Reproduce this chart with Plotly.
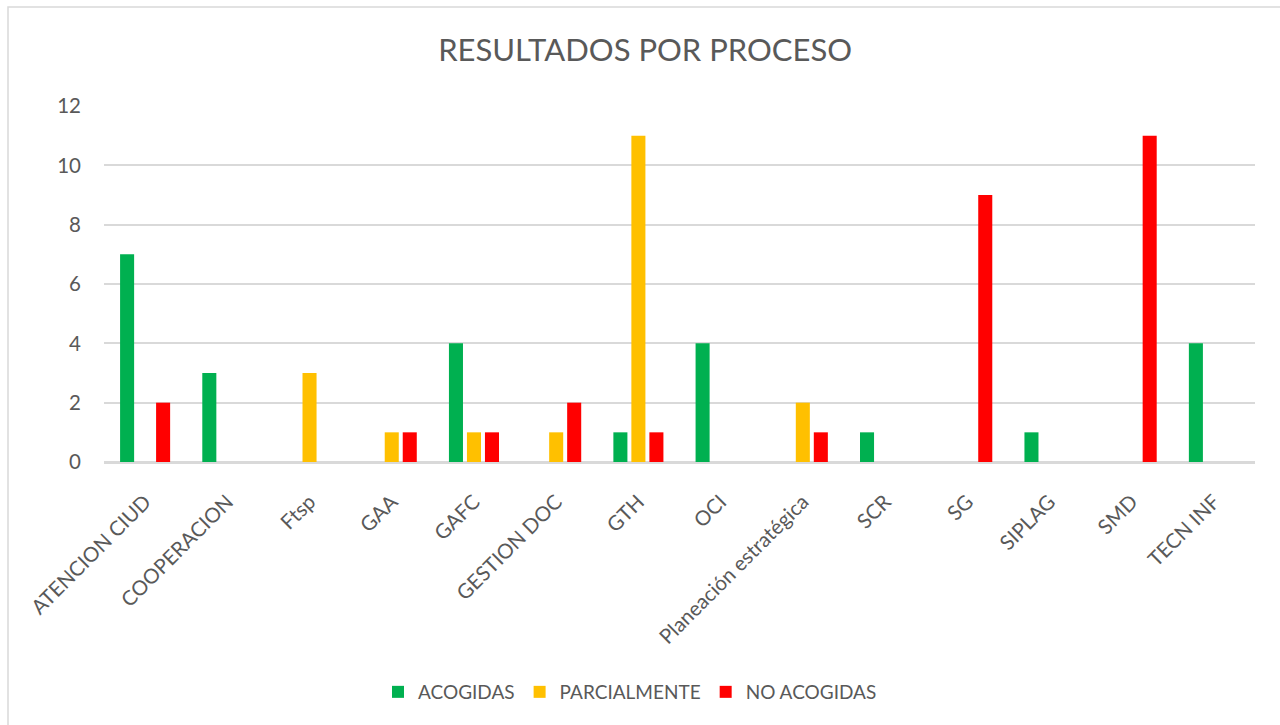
import plotly.graph_objects as go

categories = ["ATENCION CIUD", "COOPERACION", "Ftsp", "GAA", "GAFC", "GESTION DOC", "GTH",
              "OCI", "Planeación estratégica", "SCR", "SG", "SIPLAG", "SMD", "TECN INF"]
acogidas = [7, 3, 0, 0, 4, 0, 1, 4, 0, 1, 0, 1, 0, 4]
parcialmente = [0, 0, 3, 1, 1, 1, 11, 0, 2, 0, 0, 0, 0, 0]
no_acogidas = [2, 0, 0, 1, 1, 2, 1, 0, 1, 0, 9, 0, 11, 0]
y_ticks = [0, 2, 4, 6, 8, 10, 12]

TXT = "#595959"
GRID = "#D9D9D9"
FONT = "Lato, 'Open Sans', sans-serif"

fig = go.Figure()
for name, vals, col in [("ACOGIDAS", acogidas, "#00B050"),
                        ("PARCIALMENTE", parcialmente, "#FFC000"),
                        ("NO ACOGIDAS", no_acogidas, "#FF0000")]:
    fig.add_trace(go.Bar(name=name, x=categories, y=vals, marker=dict(color=col, line=dict(width=0))))

L, R, T, B = 104, 25, 106, 263
pw = 1280 - L - R
ph = 725 - T - B

fig.update_layout(
    width=1280, height=725,
    margin=dict(l=L, r=R, t=T, b=B, autoexpand=False),
    paper_bgcolor="white", plot_bgcolor="white",
    barmode="group", bargap=0.343, bargroupgap=0.22,
    font=dict(family=FONT, color=TXT, size=19),
    title=dict(text="RESULTADOS POR PROCESO", x=0.504, xref="container", xanchor="center",
               y=1 - 50 / 725, yref="container", yanchor="middle",
               font=dict(size=31, color=TXT, family=FONT)),
    legend=dict(orientation="h", x=(630 - L) / pw, xanchor="center",
                y=(725 - B - 692) / ph, yanchor="middle",
                font=dict(size=19, color=TXT), itemwidth=30, traceorder="normal"),
    xaxis=dict(tickangle=-45, showgrid=False, showline=True, linecolor=GRID, linewidth=1.5,
               ticks="", tickfont=dict(size=20.5, color=TXT), ticklabelstandoff=18, fixedrange=True),
    yaxis=dict(range=[0, 12], tickvals=y_ticks, showgrid=True, gridcolor=GRID, gridwidth=1.5,
               zeroline=True, zerolinecolor=GRID, zerolinewidth=1.5, showline=False,
               ticks="", tickfont=dict(size=20.5, color=TXT), ticklabelstandoff=22),
    shapes=[dict(type="rect", xref="paper", yref="paper",
                 x0=(8 - L) / pw, x1=(1300 - L) / pw,
                 y0=(725 - B - 7) / ph, y1=(725 - B - 740) / ph,
                 line=dict(color=GRID, width=1.5), fillcolor="rgba(0,0,0,0)", layer="below")],
)

fig.write_html("out.html", config={"displayModeBar": False},
               post_script="document.body.style.margin='0';document.body.style.overflow='hidden';")
